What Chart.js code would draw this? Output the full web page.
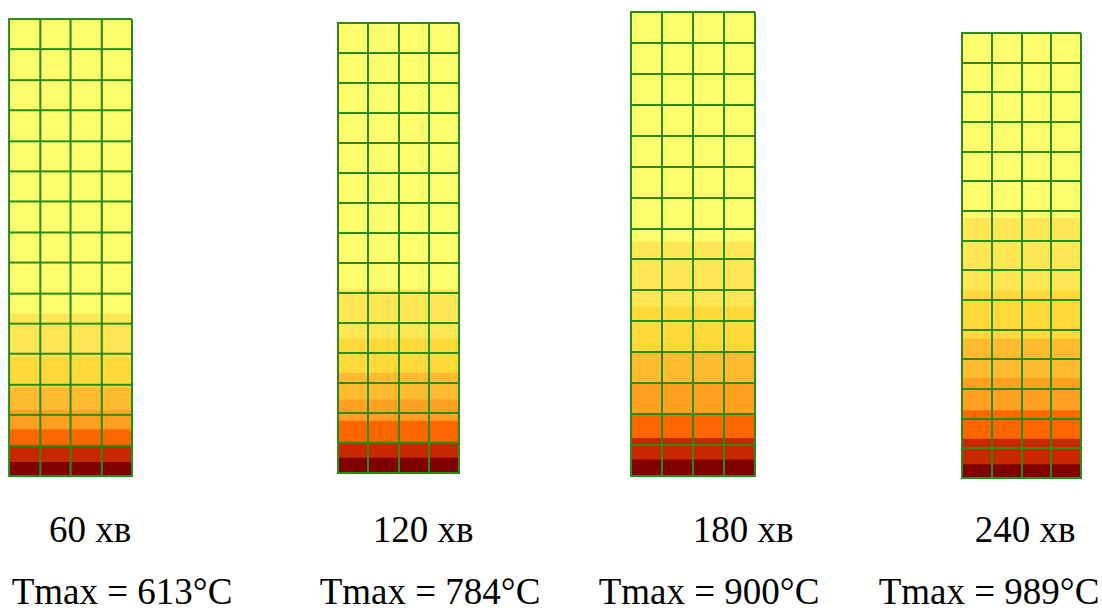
<!DOCTYPE html>
<html>
<head>
<meta charset="utf-8">
<script src="https://cdn.jsdelivr.net/npm/chart.js"></script>
<style>
  body { margin: 0; background: #fff; width: 1102px; height: 608px; position: relative; overflow: hidden; }
  .panel { position: absolute; }
  .lbl {
    position: absolute; transform: translateX(-50%); white-space: nowrap;
    font-family: 'Liberation Serif', 'Times New Roman', serif; font-size: 37px; line-height: 37px; color: #000;
  }
</style>
</head>
<body>
<script>
// time steps and max temperatures
const times = ['60 хв', '120 хв', '180 хв', '240 хв'];
const tmax = [613, 784, 900, 989];

// grid: 4 columns x 15 rows
const columns = ['1', '2', '3', '4'];
const rows = 15;

// isotherm band boundaries, in rows from the bottom (hot side) up
const bounds60 = [0, 0.45, 1.0, 1.52, 2.15, 2.9, 3.88, 5.33, 15];
const bounds120 = [0, 0.5, 1.03, 1.73, 2.44, 3.33, 4.47, 6.1, 15];
const bounds180 = [0, 0.52, 1.22, 1.99, 3.0, 4.02, 5.47, 7.57, 15];
const bounds240 = [0, 0.45, 1.31, 2.27, 3.36, 4.68, 6.31, 8.75, 15];
const allBounds = [bounds60, bounds120, bounds180, bounds240];

// band colours, hottest first
const bandColors = ['#800000', '#c82800', '#ff6600', '#ffa020', '#ffbb30', '#ffd83a', '#ffe655', '#ffff6e'];

// where each grid image sits on the page (left, top, width, height)
const panels = [
  [9.3, 19, 122.4, 456.5],
  [337.5, 22.5, 121, 450.2],
  [631, 11.7, 124.3, 464.3],
  [961.7, 33, 119.3, 445.3],
];
const labelX = [[90, 122], [423, 430], [743, 709], [1025, 989]];

const gridColor = '#2a8c14';

panels.forEach((p, i) => {
  const pad = 2;
  const c = document.createElement('canvas');
  c.className = 'panel';
  c.style.left = (p[0] - pad) + 'px';
  c.style.top = (p[1] - pad) + 'px';
  c.style.width = (p[2] + pad * 2) + 'px';
  c.style.height = (p[3] + pad * 2) + 'px';
  document.body.appendChild(c);

  const b = allBounds[i];
  const datasets = bandColors.map((col, k) => ({
    data: columns.map(() => [b[k], b[k + 1]]),
    backgroundColor: col,
    borderWidth: 0,
    barPercentage: 1,
    categoryPercentage: 1,
  }));

  new Chart(c, {
    type: 'bar',
    data: { labels: columns, datasets },
    options: {
      responsive: false,
      animation: false,
      layout: { padding: pad },
      plugins: { legend: { display: false }, tooltip: { enabled: false } },
      scales: {
        x: {
          stacked: true,
          ticks: { display: false },
          grid: { offset: true, color: gridColor, lineWidth: 2, drawTicks: false, z: 1 },
          border: { display: true, color: gridColor, width: 2, z: 1 },
        },
        y: {
          stacked: false,
          min: 0,
          max: rows,
          ticks: { display: false, stepSize: 1 },
          grid: { color: gridColor, lineWidth: 2, drawTicks: false, z: 1 },
          border: { display: true, color: gridColor, width: 2, z: 1 },
        },
      },
    },
  });

  const l1 = document.createElement('div');
  l1.className = 'lbl';
  l1.style.left = labelX[i][0] + 'px';
  l1.style.top = '511px';
  l1.textContent = times[i];
  document.body.appendChild(l1);

  const l2 = document.createElement('div');
  l2.className = 'lbl';
  l2.style.left = labelX[i][1] + 'px';
  l2.style.top = '573px';
  l2.textContent = 'Tmax = ' + tmax[i] + '°C';
  document.body.appendChild(l2);
});
</script>
</body>
</html>
